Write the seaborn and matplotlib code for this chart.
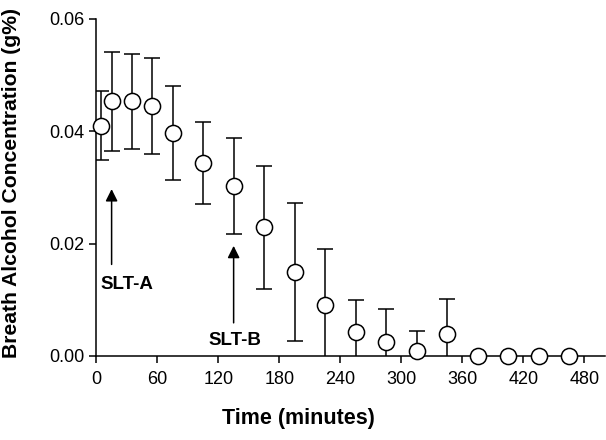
import numpy as np
import pandas as pd
import seaborn as sns
from matplotlib import pyplot as plt

# breath alcohol over time, mean +/- sd
time_min = [5, 15, 35, 55, 75, 105, 135, 165, 195, 225, 255, 285, 315, 345, 375, 405, 435, 465]
brac = [0.0410, 0.0453, 0.0453, 0.0445, 0.0397, 0.0344, 0.0303, 0.0229, 0.0149, 0.0090,
        0.0042, 0.0024, 0.0009, 0.0039, 0.0, 0.0, 0.0, 0.0]
sd = [0.0062, 0.0088, 0.0084, 0.0085, 0.0084, 0.0073, 0.0085, 0.0109, 0.0123, 0.0101,
      0.0058, 0.0060, 0.0036, 0.0062, 0.0, 0.0, 0.0, 0.0]
x_ticks = [0, 60, 120, 180, 240, 300, 360, 420, 480]
y_ticks = [0.00, 0.02, 0.04, 0.06]
y_tick_labels = ["0.00", "0.02", "0.04", "0.06"]

df = pd.DataFrame({"time": time_min, "brac": brac, "sd": sd})

sns.set_style("ticks")
plt.rcParams['font.family'] = ['Liberation Sans', 'DejaVu Sans']
plt.rcParams['text.color'] = 'black'
plt.rcParams['axes.labelcolor'] = 'black'

fig = plt.figure(figsize=(6.06, 4.40), dpi=100)
ax = fig.add_axes([0.159, 0.191, 0.839, 0.766])

ax.errorbar(df["time"], df["brac"], yerr=df["sd"], fmt="none", ecolor="black",
            elinewidth=1.1, capsize=5.5, capthick=1.1, zorder=2)
sns.scatterplot(data=df, x="time", y="brac", ax=ax, s=135, marker="o",
                facecolor="white", edgecolor="black", linewidth=1.1, zorder=3, clip_on=False)

# annotations
ax.annotate("", xy=(15, 0.0302), xytext=(15, 0.0158),
            arrowprops=dict(arrowstyle="-|>", color="black", lw=1.1, mutation_scale=18))
ax.text(30, 0.0128, "SLT-A", ha="center", va="center", fontsize=13.5, fontweight="bold")
ax.annotate("", xy=(135, 0.0201), xytext=(135, 0.0054),
            arrowprops=dict(arrowstyle="-|>", color="black", lw=1.1, mutation_scale=18))
ax.text(136, 0.0028, "SLT-B", ha="center", va="center", fontsize=13.5, fontweight="bold")

ax.set_xlim(0, 500)
ax.set_ylim(0, 0.06)
ax.set_xticks(x_ticks)
ax.set_yticks(y_ticks)
ax.set_yticklabels(y_tick_labels)
ax.tick_params(direction="out", length=5, width=1.1, labelsize=13, colors="black")
ax.tick_params(axis="x", pad=6)
for s in ["left", "bottom"]:
    ax.spines[s].set_linewidth(1.1)
    ax.spines[s].set_color("black")
sns.despine(ax=ax)

ax.set_xlabel("Time (minutes)", fontsize=15.5, fontweight="bold")
ax.set_ylabel("Breath Alcohol Concentration (g%)", fontsize=15.2, fontweight="bold")
ax.xaxis.set_label_coords(0.397, -0.155)
ax.yaxis.set_label_coords(-0.148, 0.513)

plt.savefig("out.png", dpi=100)
plt.close(fig)
